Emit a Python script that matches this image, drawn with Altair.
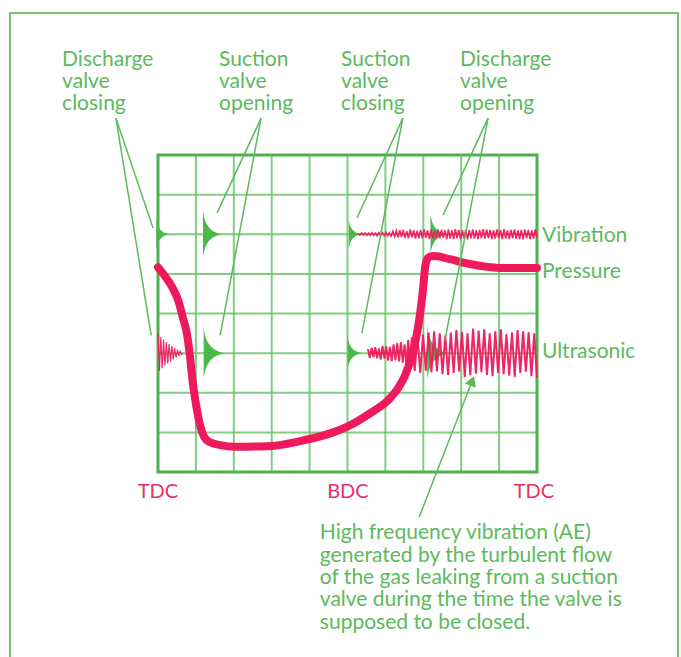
import altair as alt
import numpy as np
import pandas as pd

# ---------------- data (x in grid divisions 0..10, y in grid divisions 0..8) ----------------
pressure_x = [0.0, 0.185, 0.37, 0.53, 0.66, 0.77, 0.84, 0.92, 1.03, 1.11, 1.21, 1.37, 1.64, 2.03,
              2.88, 3.75, 4.62, 5.07, 5.59, 6.07, 6.33, 6.52, 6.68, 6.81, 6.91, 6.99, 7.04, 7.09,
              7.19, 7.30, 7.70, 8.23, 8.76, 9.02, 10.0]
pressure_y = [5.17, 4.94, 4.67, 4.34, 3.88, 3.45, 2.95, 2.24, 1.56, 1.18, 0.90, 0.75, 0.68, 0.64,
              0.65, 0.78, 1.00, 1.18, 1.48, 1.81, 2.11, 2.44, 2.87, 3.38, 3.96, 4.59, 5.10, 5.35,
              5.44, 5.45, 5.37, 5.25, 5.17, 5.15, 5.15]

vibration_base = 6.0
ultrasonic_base = 3.0

# vibration trace after suction valve closing (x 5.28 .. 10)
vibration_amp = [
    0.02, -0.02, 0.03, -0.02, 0.03, -0.03, 0.03, -0.03, 0.04, -0.03, 0.03, -0.04, 0.04, -0.03,
    0.04, -0.04, 0.05, -0.04, 0.04, -0.05,
    0.07, -0.06, 0.09, -0.08, 0.10, -0.07, 0.11, -0.09, 0.08, -0.10, 0.12, -0.08, 0.10, -0.11,
    0.09, -0.10,
    0.11, -0.10, 0.12, -0.09, 0.10, -0.12, 0.11, -0.10, 0.09, -0.11, 0.12, -0.10, 0.11, -0.09,
    0.10, -0.12, 0.12, -0.11, 0.10, -0.12, 0.13, -0.10, 0.11, -0.12, 0.10, -0.11, 0.12, -0.13,
    0.11, -0.10, 0.12, -0.11, 0.10, -0.12, 0.11, -0.10, 0.13, -0.11, 0.12, -0.10, 0.11, -0.12,
    0.10, -0.11, 0.12, -0.10, 0.11, -0.12, 0.13, -0.11, 0.10, -0.12, 0.11, -0.10, 0.12, -0.11,
    0.10, -0.12, 0.11, -0.13, 0.12, -0.10, 0.11, -0.12, 0.10, -0.11, 0.12, -0.10]

# ultrasonic burst at discharge valve closing (x 0 .. 0.66)
burst_amp = [0.50, -0.45, 0.40, -0.38, 0.34, -0.31, 0.28, -0.26, 0.23, -0.21, 0.18, -0.16,
             0.13, -0.11, 0.09, -0.07, 0.05, -0.03, 0.0]

# ultrasonic leak signal (x 5.54 .. 6.65 and 6.70 .. 10)
leak_amp_a = [0.10, -0.12, 0.14, -0.10, 0.15, -0.13, 0.12, -0.16, 0.18, -0.14, 0.17, -0.19,
              0.16, -0.20, 0.22, -0.18, 0.25, -0.21, 0.28, -0.24, 0.22, -0.30, 0.33, -0.28]
leak_amp_b = [0.40, -0.45, 0.42, -0.50, 0.47, -0.44, 0.52, -0.48, 0.55, -0.46, 0.50, -0.53,
              0.45, -0.55, 0.52, -0.50, 0.58, -0.47, 0.54, -0.60, 0.50, -0.56, 0.62, -0.52,
              0.57, -0.48, 0.60, -0.55, 0.50, -0.58, 0.55, -0.50, 0.60, -0.53, 0.48, -0.57,
              0.52, -0.60, 0.58, -0.50, 0.55, -0.47, 0.53, -0.58, 0.50, -0.62]

# valve event markers
marker_x = [0.12, 1.43, 5.19, 7.40, 1.47, 5.18, 7.38]
marker_row = [6, 6, 6, 6, 3, 3, 3]
marker_amp = [0.30, 0.44, 0.28, 0.38, 0.48, 0.32, 0.50]

grid_x = [1, 2, 3, 4, 5, 6, 7, 8, 9]
grid_y = [1, 2, 3, 4, 5, 6, 7]

stroke_labels = ["TDC", "BDC", "TDC"]
stroke_pos = [0.0, 5.01, 9.92]

# ---------------- styling ----------------
GREEN = "#5cba5c"
GRID = "#6cc46c"
RED = "#ee1a5c"
RED_TXT = "#ec2f66"
FONT = "Lato"

XS = alt.Scale(domain=[0, 10], nice=False, zero=False)
YS = alt.Scale(domain=[0, 8], nice=False, zero=False)


def xq(f="x"):
    return alt.X(f, type="quantitative", scale=XS, axis=None)


def yq(f="y"):
    return alt.Y(f, type="quantitative", scale=YS, axis=None)


def zig(x0, x1, amps, base, name):
    xs = np.linspace(x0, x1, len(amps))
    return pd.DataFrame({"x": xs, "y": base + np.array(amps), "series": name})


# outer frame
frame = alt.Chart(pd.DataFrame({"a": [0]})).mark_rect(
    fillOpacity=0, stroke="#74c874", strokeWidth=2
).encode(x=alt.value(-148), x2=alt.value(520), y=alt.value(-142), y2=alt.value(560))

gx = alt.Chart(pd.DataFrame({"x": grid_x})).mark_rule(color=GRID, strokeWidth=2, opacity=0.85).encode(
    x=xq())
gy = alt.Chart(pd.DataFrame({"y": grid_y})).mark_rule(color=GRID, strokeWidth=2, opacity=0.85).encode(
    y=yq())
border = alt.Chart(pd.DataFrame({"a": [0]})).mark_rect(
    fillOpacity=0, stroke="#4cb24c", strokeWidth=3
).encode(x=alt.value(0), x2=alt.value(379), y=alt.value(0), y2=alt.value(317))

markers_df = pd.DataFrame({"x": marker_x, "y": marker_row, "amp": marker_amp})
cusp = "M -0.4 -1 C -0.32 -0.4 -0.1 -0.1 0.42 0 C -0.1 0.1 -0.32 0.4 -0.4 1 Z"
markers = alt.Chart(markers_df).mark_point(shape=cusp, filled=True, color="#4cb84c", opacity=1).encode(
    x=xq(), y=yq(),
    size=alt.Size("amp:Q", scale=alt.Scale(type="pow", exponent=2, domain=[0, 1], range=[0, 11000]),
                  legend=None))

vib_df = zig(5.28, 10.0, vibration_amp, vibration_base, "vib")
vib = alt.Chart(vib_df).mark_line(color=RED, strokeWidth=1.6, opacity=0.95).encode(
    x=xq(), y=yq())

burst_df = zig(0.0, 0.66, burst_amp, ultrasonic_base, "burst")
burst = alt.Chart(burst_df).mark_line(color=RED, strokeWidth=1.2, opacity=0.95).encode(
    x=xq(), y=yq())

leak_df = pd.concat([zig(5.54, 6.65, leak_amp_a, ultrasonic_base, "leak"),
                     zig(6.70, 10.0, leak_amp_b, ultrasonic_base, "leak")], ignore_index=True)
leak = alt.Chart(leak_df).mark_line(color=RED, strokeWidth=2, opacity=0.95).encode(
    x=xq(), y=yq())

press = alt.Chart(pd.DataFrame({"x": pressure_x, "y": pressure_y})).mark_line(
    color=RED, strokeWidth=8, interpolate="monotone", strokeCap="round", strokeJoin="round"
).encode(x=xq(), y=yq())

leaders_df = pd.DataFrame({
    "x": [-1.11, -1.11, 2.72, 2.72, 6.46, 6.46, 8.71, 8.71, 6.89],
    "y": [8.93, 8.93, 8.93, 8.93, 8.93, 8.93, 8.93, 8.93, -1.14],
    "x2": [-0.13, -0.18, 1.56, 1.64, 5.25, 5.38, 7.52, 7.57, 8.30],
    "y2": [6.16, 3.45, 6.54, 3.45, 6.41, 3.505, 6.48, 3.33, 2.32],
})
leaders = alt.Chart(leaders_df).mark_rule(color=GREEN, strokeWidth=1.5).encode(
    x=xq(), y=yq(), x2="x2:Q", y2="y2:Q")
arrowhead = alt.Chart(pd.DataFrame({"x": [8.29], "y": [2.30]})).mark_point(
    shape="triangle-up", filled=True, color=GREEN, opacity=1, size=140, angle=21
).encode(x=xq(), y=yq())

top_df = pd.DataFrame({
    "x": [-2.53, 1.61, 4.83, 7.97],
    "y": [10.25, 10.25, 10.25, 10.25],
    "t": ["Discharge\nvalve\nclosing", "Suction\nvalve\nopening", "Suction\nvalve\nclosing",
          "Discharge\nvalve\nopening"],
})
top_txt = alt.Chart(top_df).mark_text(
    align="left", baseline="alphabetic", lineBreak="\n", lineHeight=22, fontSize=21, font=FONT,
    color=GREEN
).encode(x=xq(), y=yq(), text="t:N")

right_df = pd.DataFrame({"x": [10.13, 10.13, 10.13], "y": [5.95, 5.05, 3.03],
                         "t": ["Vibration", "Pressure", "Ultrasonic"]})
right_txt = alt.Chart(right_df).mark_text(
    align="left", baseline="middle", fontSize=21, font=FONT, color=GREEN
).encode(x=xq(), y=yq(), text="t:N")

dc_df = pd.DataFrame({"x": stroke_pos, "y": [-0.51] * 3, "t": stroke_labels})
dc_txt = alt.Chart(dc_df).mark_text(
    align="center", baseline="middle", fontSize=20, font=FONT, color=RED_TXT
).encode(x=xq(), y=yq(), text="t:N")

note_df = pd.DataFrame({"x": [4.27], "y": [-1.70], "t": [
    "High frequency vibration (AE)\ngenerated by the turbulent flow\nof the gas leaking from a suction\n"
    "valve during the time the valve is\nsupposed to be closed."]})
note_txt = alt.Chart(note_df).mark_text(
    align="left", baseline="alphabetic", lineBreak="\n", lineHeight=22.3, fontSize=21, font=FONT,
    color=GREEN
).encode(x=xq(), y=yq(), text="t:N")

chart = alt.layer(
    frame, gx, gy, border, markers, vib, burst, leak, press, leaders, arrowhead,
    top_txt, right_txt, dc_txt, note_txt
).properties(
    width=379, height=317,
    autosize=alt.AutoSizeParams(type="none"),
    padding={"left": 158, "top": 155, "right": 144, "bottom": 185},
    background="white",
).configure_view(stroke=None)

chart.save("out.html", embed_options={"renderer": "svg", "actions": False})
